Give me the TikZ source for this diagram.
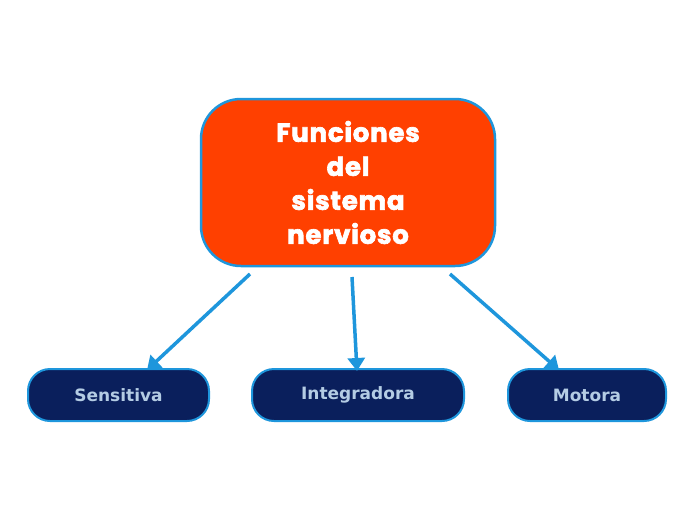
\documentclass[tikz,border=0pt]{standalone}
\usepackage{fontspec}
\setmainfont{DejaVu Sans}
\newfontfamily\titlefont[FakeBold=2.5,LetterSpace=3]{Poppins}
\usetikzlibrary{arrows.meta}
\definecolor{edgeblue}{HTML}{1E96DC}
\definecolor{mainorange}{HTML}{FF4000}
\definecolor{navy}{HTML}{0A1F5C}
\definecolor{lightbl}{HTML}{B4CCE4}
\begin{document}
\begin{tikzpicture}[x=1pt,y=-1pt,
  mainbox/.style={draw=edgeblue,line width=2.5pt,fill=mainorange,rounded corners=40pt,minimum width=294pt,minimum height=167pt,text=white,align=center,font=\titlefont\bfseries\fontsize{26}{34}\selectfont},
  leaf/.style={draw=edgeblue,line width=2pt,fill=navy,rounded corners=22pt,minimum height=52pt,text=lightbl,font=\bfseries\fontsize{17}{19}\selectfont},
  conn/.style={draw=edgeblue,line width=3.5pt,-{Triangle[length=13pt,width=17pt]}}]
\useasboundingbox (0,0) rectangle (696,520);
\node[mainbox] (main) at (348,182.5) {Funciones\\del\\sistema\\nervioso};
\node[leaf,minimum width=181pt] (s) at (118.5,395) {Sensitiva};
\node[leaf,minimum width=212pt] (i) at (358,395) {Integradora};
\node[leaf,minimum width=158pt] (m) at (587,395) {Motora};
\coordinate (a1) at (250,274); \coordinate (b1) at (147,370);
\coordinate (a2) at (352,277); \coordinate (b2) at (357,371);
\coordinate (a3) at (450,274); \coordinate (b3) at (559,370);
\draw[conn] (a1) -- (b1);
\draw[conn] (a2) -- (b2);
\draw[conn] (a3) -- (b3);
\end{tikzpicture}
\end{document}
